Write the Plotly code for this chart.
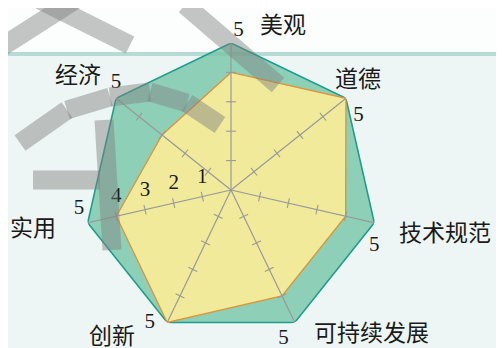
import plotly.graph_objects as go

# radar chart - design evaluation
criteria = ['美观', '道德', '技术规范', '可持续发展', '创新', '实用', '经济']
full_scores = [5, 5, 5, 5, 5, 5, 5]
design_scores = [4, 5, 4, 4, 5, 4, 3]
scale_ticks = [1, 2, 3, 4]
axis_len = 5.55

n = len(criteria)
closed = criteria + [criteria[0]]
W, H = 504, 348
OFF = 8  # page body margin, positions below are measured on the screenshot

fig = go.Figure()

# outer polygon (full marks)
fig.add_trace(go.Scatterpolar(
    r=full_scores + [full_scores[0]], theta=closed,
    mode='lines', fill='toself',
    fillcolor='rgba(115,196,165,0.78)',
    line=dict(color='#1e9e8c', width=1.6),
    hoverinfo='skip'))

# inner polygon (design scores)
fig.add_trace(go.Scatterpolar(
    r=design_scores + [design_scores[0]], theta=closed,
    mode='lines', fill='toself',
    fillcolor='#f1ea9b',
    line=dict(color='#de9436', width=1.3),
    hoverinfo='skip'))

# spokes
spoke_r, spoke_t = [], []
for c in criteria:
    spoke_r += [0, axis_len, None]
    spoke_t += [c, c, None]
fig.add_trace(go.Scatterpolar(
    r=spoke_r, theta=spoke_t, mode='lines',
    line=dict(color='#999999', width=1.2),
    connectgaps=False, cliponaxis=False, hoverinfo='skip'))

# small tick marks on every spoke
tick_r, tick_t, tick_a = [], [], []
for i, c in enumerate(criteria):
    for t in scale_ticks:
        tick_r.append(t)
        tick_t.append(c)
        tick_a.append(i * 360 / n)
fig.add_trace(go.Scatterpolar(
    r=tick_r, theta=tick_t, mode='markers',
    marker=dict(symbol='line-ew', size=7, angle=tick_a,
                line=dict(color='#999999', width=1.1)),
    hoverinfo='skip'))

# scale numbers along the 实用 spoke
fig.add_trace(go.Scatterpolar(
    r=scale_ticks, theta=['实用'] * len(scale_ticks),
    mode='markers+text', text=[str(t) for t in scale_ticks],
    marker=dict(size=12, opacity=0),
    textposition='top center',
    textfont=dict(family='Liberation Serif', size=21, color='#1a1a1a'),
    cliponaxis=False, hoverinfo='skip'))

# "5" at the end of each spoke
fig.add_trace(go.Scatterpolar(
    r=full_scores, theta=criteria, mode='markers+text',
    text=['5'] * n,
    marker=dict(size=[2, 10, 18, 8, 18, 4, 6], opacity=0),
    textposition=['top right', 'bottom right', 'bottom center',
                  'bottom left', 'middle left', 'top left', 'top center'],
    textfont=dict(family='Liberation Serif', size=21, color='#1a1a1a'),
    cliponaxis=False, hoverinfo='skip'))

# criterion labels
label_pos = {
    '美观': (283, 23), '道德': (358, 77), '技术规范': (445, 231),
    '可持续发展': (371, 331), '创新': (112, 334), '实用': (33, 226),
    '经济': (78, 73),
}
for c in criteria:
    px_, py_ = label_pos[c]
    fig.add_annotation(x=(px_ - OFF) / W, y=1 - (py_ - OFF) / H,
                       xref='paper', yref='paper',
                       xanchor='center', yanchor='middle',
                       text=c, showarrow=False, borderpad=0,
                       font=dict(family='Noto Sans CJK SC', size=23, color='#1a1a1a'))

# background: white strip on top, mint below with a teal rule
rule_y = 1 - (54 - OFF) / H
fig.add_shape(type='rect', xref='paper', yref='paper', x0=-0.1, x1=1.1, y0=-0.1,
              y1=rule_y, fillcolor='#edf6f4', line_width=0, layer='below')
fig.add_shape(type='line', xref='paper', yref='paper', x0=-0.1, x1=1.1,
              y0=rule_y, y1=rule_y,
              line=dict(color='#b4dcd5', width=4), layer='below')

# grey watermark strokes over the picture
watermark = [
    ((75, 0), (0, 48)),
    ((40, 0), (130, 45)),
    ((185, 5), (278, 85)),
    ((20, 143), (67, 110)),
    ((67, 110), (110, 97)),
    ((110, 97), (150, 92)),
    ((150, 92), (187, 103)),
    ((187, 103), (220, 125)),
    ((33, 180), (100, 180)),
    ((104, 120), (112, 250)),
]
for (x0, y0), (x1, y1) in watermark:
    fig.add_shape(type='line', xref='paper', yref='paper',
                  x0=(x0 - OFF) / W, y0=1 - (y0 - OFF) / H,
                  x1=(x1 - OFF) / W, y1=1 - (y1 - OFF) / H,
                  line=dict(color='#808080', width=19), opacity=0.45,
                  layer='above')

fig.update_layout(
    width=W, height=H,
    margin=dict(l=0, r=0, t=0, b=0),
    paper_bgcolor='#fcfefd',
    showlegend=False,
    polar=dict(
        domain=dict(x=[76 / W, 370 / W], y=[19 / H, 313 / H]),
        bgcolor='rgba(0,0,0,0)',
        radialaxis=dict(visible=False, range=[0, 5]),
        angularaxis=dict(type='category', categoryarray=criteria,
                         rotation=90, direction='clockwise',
                         showticklabels=False, showgrid=False,
                         showline=False, ticks=''),
    ),
)

fig.write_html('out.html')
